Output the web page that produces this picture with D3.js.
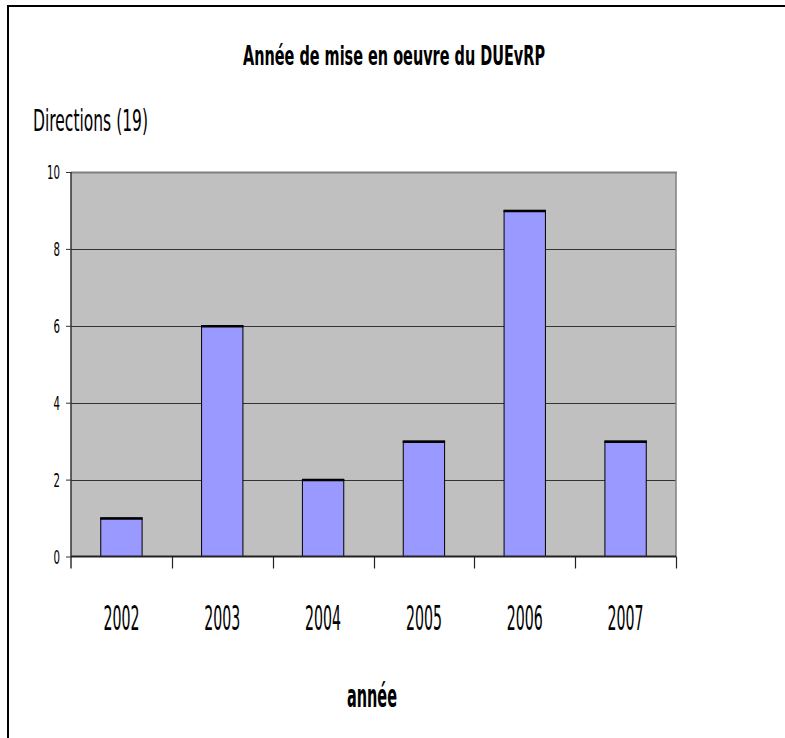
<!DOCTYPE html>
<html>
<meta charset="utf-8">
<style>
  body { margin: 0; background: #fff; overflow: hidden; }
  svg { display: block; }
  text { font-family: "DejaVu Sans", sans-serif; fill: #000; font-weight: bold; }
  .grid line { stroke: #333; stroke-width: 1; }
  .bar { fill: #9999ff; stroke: #000; stroke-width: 1; }
</style>
<body>
<script src="https://d3js.org/d3.v7.min.js"></script>
<script>
  // data
  let years = ["2002", "2003", "2004", "2005", "2006", "2007"];
  let counts = [1, 6, 2, 3, 9, 3];
  let yTicks = [0, 2, 4, 6, 8, 10];

  let width = 785, height = 738;
  let plot = { left: 71, top: 172, right: 676, bottom: 556.5 };

  let svg = d3.select("body").append("svg")
    .attr("width", width)
    .attr("height", height);

  // outer frame: only top and left edges are inside the picture
  svg.append("path")
    .attr("d", `M8,${height}V6H${width}`)
    .attr("fill", "none")
    .attr("stroke", "#000")
    .attr("stroke-width", 2);

  let x = d3.scaleBand()
    .domain(years)
    .range([plot.left, plot.right])
    .paddingInner(0.59)
    .paddingOuter(0.295);

  let y = d3.scaleLinear()
    .domain([0, 10])
    .range([plot.bottom, plot.top]);

  // gray plot area
  svg.append("rect")
    .attr("x", plot.left).attr("y", plot.top)
    .attr("width", plot.right - plot.left)
    .attr("height", plot.bottom - plot.top)
    .attr("fill", "#c0c0c0");

  // horizontal gridlines
  svg.append("g").attr("class", "grid")
    .selectAll("line")
    .data(yTicks.filter(d => d > 0 && d < 10))
    .join("line")
    .attr("x1", plot.left).attr("x2", plot.right)
    .attr("y1", d => Math.round(y(d)) + 0.5)
    .attr("y2", d => Math.round(y(d)) + 0.5);

  // top and right edge of the plot area
  svg.append("line")
    .attr("x1", plot.left).attr("x2", plot.right + 1)
    .attr("y1", plot.top + 0.5).attr("y2", plot.top + 0.5)
    .attr("stroke", "#808080").attr("stroke-width", 2);
  svg.append("line")
    .attr("x1", plot.right).attr("x2", plot.right)
    .attr("y1", plot.top).attr("y2", plot.bottom)
    .attr("stroke", "#808080").attr("stroke-width", 1.5);

  // bars
  svg.selectAll(".bar")
    .data(counts)
    .join("rect")
    .attr("class", "bar")
    .attr("x", (d, i) => x(years[i]))
    .attr("y", d => y(d))
    .attr("width", x.bandwidth())
    .attr("height", d => y(0) - y(d));

  // thicker top edge on each bar
  svg.selectAll(".bartop")
    .data(counts)
    .join("line")
    .attr("class", "bartop")
    .attr("x1", (d, i) => x(years[i]) - 0.5)
    .attr("x2", (d, i) => x(years[i]) + x.bandwidth() + 0.5)
    .attr("y1", d => y(d) + 0.5)
    .attr("y2", d => y(d) + 0.5)
    .attr("stroke", "#000")
    .attr("stroke-width", 2.5);

  // y axis
  let yAxis = d3.axisLeft(y)
    .tickValues(yTicks)
    .tickSize(5)
    .tickPadding(6)
    .tickFormat(d3.format("d"));
  let gy = svg.append("g")
    .attr("transform", `translate(${plot.left},0)`)
    .call(yAxis);
  gy.select(".domain").attr("stroke", "#333").attr("stroke-width", 1.5)
    .attr("d", `M0,${plot.top}V${plot.bottom + 12}`);
  gy.selectAll(".tick line").attr("stroke", "#333");
  gy.selectAll(".tick text")
    .attr("fill", "#000")
    .style("font-size", "19px")
    .style("font-weight", "normal")
    .attr("dy", "0.36em")
    .attr("textLength", d => String(d).length * 6.5)
    .attr("lengthAdjust", "spacingAndGlyphs");

  // x axis line and category separators
  let xAxis = d3.axisBottom(x).tickSize(0).tickPadding(0);
  let gx = svg.append("g")
    .attr("transform", `translate(0,${plot.bottom})`)
    .call(xAxis);
  gx.select(".domain").attr("stroke", "#222").attr("stroke-width", 2)
    .attr("d", `M${plot.left},0H${plot.right}`);
  gx.selectAll(".tick line").remove();
  gx.selectAll(".tick text")
    .attr("fill", "#000")
    .attr("y", 73)
    .attr("dy", 0)
    .style("font-size", "34px")
    .style("font-weight", "normal")
    .attr("textLength", 36)
    .attr("lengthAdjust", "spacingAndGlyphs");

  let step = x.step();
  let edges = d3.range(years.length + 1).map(i => plot.left + i * step);
  svg.append("g").selectAll("line")
    .data(edges.slice(1))
    .join("line")
    .attr("x1", d => Math.round(d) + 0.5).attr("x2", d => Math.round(d) + 0.5)
    .attr("y1", plot.bottom).attr("y2", plot.bottom + 12)
    .attr("stroke", "#222").attr("stroke-width", 1.2);

  // titles
  svg.append("text")
    .attr("x", 394).attr("y", 65)
    .attr("text-anchor", "middle")
    .style("font-size", "27px")
    .attr("textLength", 302)
    .attr("lengthAdjust", "spacingAndGlyphs")
    .text("Année de mise en oeuvre du DUEvRP");

  svg.append("text")
    .attr("x", 33).attr("y", 131)
    .style("font-size", "31px")
    .style("font-weight", "normal")
    .attr("textLength", 115)
    .attr("lengthAdjust", "spacingAndGlyphs")
    .text("Directions (19)");

  svg.append("text")
    .attr("x", 372).attr("y", 707)
    .attr("text-anchor", "middle")
    .style("font-size", "32px")
    .attr("textLength", 50)
    .attr("lengthAdjust", "spacingAndGlyphs")
    .text("année");
</script>
</body>
</html>
